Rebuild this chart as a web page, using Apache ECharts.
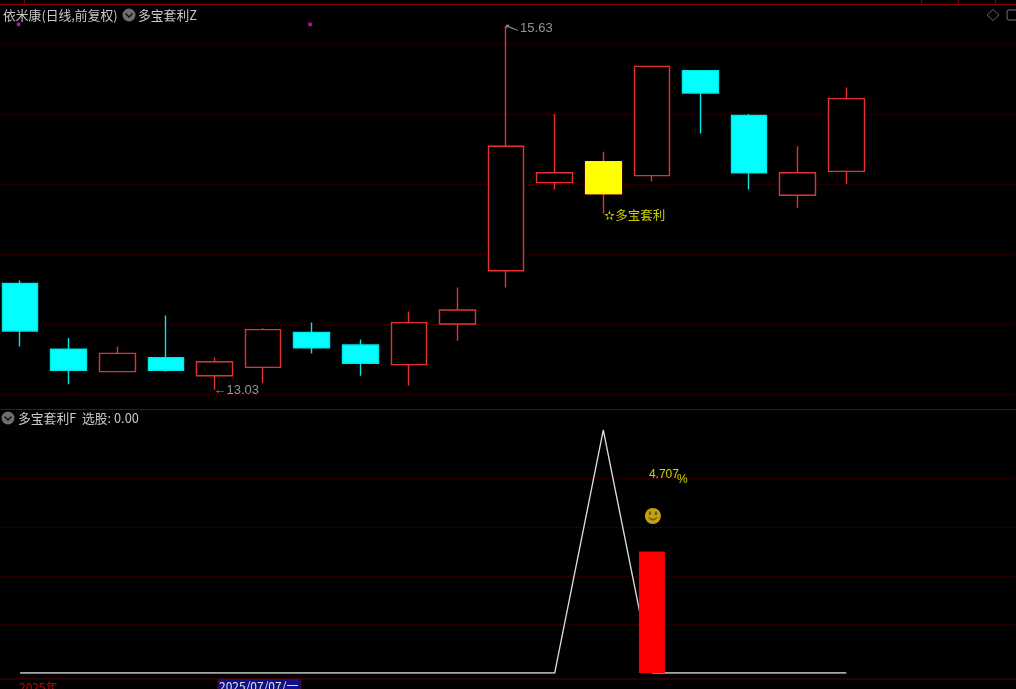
<!DOCTYPE html>
<html>
<head>
<meta charset="utf-8">
<style>
html, body { margin: 0; padding: 0; background: #000; }
#main { width: 1016px; height: 689px; overflow: hidden; }
</style>
<script src="https://cdn.jsdelivr.net/npm/echarts@6/dist/echarts.min.js"></script>
</head>
<body>
<div id="main"></div>
<script>
var cnFont = '"Noto Sans CJK SC", sans-serif';

var days = ['2025/07/01', '2025/07/02', '2025/07/03', '2025/07/04', '2025/07/07', '2025/07/08', '2025/07/09',
    '2025/07/10', '2025/07/11', '2025/07/14', '2025/07/15', '2025/07/16', '2025/07/17', '2025/07/18',
    '2025/07/21', '2025/07/22', '2025/07/23', '2025/07/24', '2025/07/25', '2025/07/28', '2025/07/29'];

// open, close, low, high
var opens  = [13.79, 13.32, 13.16, 13.26, 13.13, 13.19, 13.44, 13.35, 13.21, 13.50, 13.88, 14.51, 14.43, 14.56, 15.31, 14.99, 14.42, 14.59];
var closes = [13.45, 13.17, 13.29, 13.17, 13.23, 13.46, 13.33, 13.22, 13.51, 13.60, 14.77, 14.58, 14.66, 15.34, 15.15, 14.58, 14.58, 15.11];
var lows   = [13.34, 13.07, 13.16, 13.16, 13.03, 13.08, 13.29, 13.13, 13.06, 13.38, 13.76, 14.46, 14.29, 14.52, 14.86, 14.46, 14.33, 14.50];
var highs  = [13.81, 13.40, 13.34, 13.56, 13.26, 13.47, 13.51, 13.39, 13.59, 13.76, 15.63, 15.00, 14.73, 15.34, 15.31, 15.00, 14.77, 15.19];

var signalIndex = 12;
var magentaDots = [[0, 15.64], [6, 15.64]];

var pickLine = [0, 0, 0, 0, 0, 0, 0, 0, 0, 0, 0, 0, 1, 0, 0, 0, 0, 0];
var profitBar = [null, null, null, null, null, null, null, null, null, null, null, null, null, 0.5];
var profitText = '4.707';

var candles = opens.map(function(o, i) {
    return [o, closes[i], lows[i], highs[i]];
});

var chart = echarts.init(document.getElementById('main'), null, { renderer: 'canvas' });

function chrome(x, y, text, color) {
    return { type: 'text', x: x, y: y, silent: true, style: {
        text: text, fill: color || '#c8c8c8', font: '12.8px ' + cnFont, verticalAlign: 'middle'
    } };
}

function chevron(x, y) {
    return [
        { type: 'circle', shape: { cx: x, cy: y, r: 6.5 }, style: { fill: '#6e6e6e' } },
        { type: 'polyline', shape: { points: [[x - 3.5, y - 1.5], [x, y + 2], [x + 3.5, y - 1.5]] }, style: { stroke: '#111', lineWidth: 1.5, fill: null } }
    ];
}

function hLine(y, color) {
    return { type: 'line', shape: { x1: 0, y1: y, x2: 1016, y2: y }, style: { stroke: color, lineWidth: 1 } };
}

function vTick(x) {
    return { type: 'line', shape: { x1: x, y1: 0, x2: x, y2: 4 }, style: { stroke: '#800000', lineWidth: 1 } };
}

var splitStyle = { show: true, lineStyle: { color: '#700000', type: [1, 3], width: 1 } };
var markFont = { color: '#b8b8b8', fontSize: 13, fontFamily: 'Liberation Sans' };

var option = {
    backgroundColor: '#000',
    animation: false,
    grid: [
        { left: -4.2, top: 44, width: 1020.6, height: 350, outerBoundsMode: 'none' },
        { left: -4.2, top: 430, width: 1020.6, height: 243, outerBoundsMode: 'none' }
    ],
    xAxis: [
        { type: 'category', gridIndex: 0, data: days, show: false },
        { type: 'category', gridIndex: 1, data: days, show: false }
    ],
    yAxis: [
        { type: 'value', gridIndex: 0, min: 13, max: 15.5, interval: 0.5,
          axisLine: { show: false }, axisTick: { show: false }, axisLabel: { show: false }, splitLine: splitStyle },
        { type: 'value', gridIndex: 1, min: 0, max: 1, interval: 0.2,
          axisLine: { show: false }, axisTick: { show: false }, axisLabel: { show: false },
          splitLine: { show: true, showMinLine: false, showMaxLine: false, lineStyle: splitStyle.lineStyle } }
    ],
    series: [
        {
            name: 'K线', type: 'candlestick', xAxisIndex: 0, yAxisIndex: 0, data: candles,
            barWidth: 36, clip: false,
            itemStyle: { color: '#000', color0: '#00ffff', borderColor: '#e83232', borderColor0: '#00e8e8', borderWidth: 1.4 }
        },
        {
            name: '信号', type: 'candlestick', xAxisIndex: 0, yAxisIndex: 0, barWidth: 36, clip: false,
            data: candles.map(function(c, i) {
                return i === signalIndex ? [c[0], c[1], c[0], c[1]] : [null, null, null, null];
            }),
            itemStyle: { color: '#ffff00', color0: '#ffff00', borderColor: '#ffff00', borderColor0: '#ffff00', borderWidth: 1 }
        },
        {
            name: '标记', type: 'scatter', xAxisIndex: 0, yAxisIndex: 0, data: magentaDots, clip: false,
            symbol: 'rect', symbolSize: 3.5, symbolOffset: [-1.6, 0], itemStyle: { color: '#ff00ff' }
        },
        {
            name: '高低点', type: 'scatter', xAxisIndex: 0, yAxisIndex: 0, clip: false, z: 5,
            data: [
                { value: [10, highs[10]], symbol: 'path://M0 0 L4 0 L2.5 1.2 L14 5.5 L13.5 6.5 L1.5 2.4 L1 5 Z', symbolSize: [12, 6], symbolOffset: [6, 2],
                  itemStyle: { color: '#c0c0c0' },
                  label: { show: true, position: 'right', distance: 2, offset: [0, 1], formatter: highs[10].toFixed(2), color: markFont.color, fontSize: 13, fontFamily: markFont.fontFamily } },
                { value: [4, lows[4]], symbolSize: 0,
                  label: { show: true, position: 'right', distance: 0, offset: [-1, 1], formatter: '←' + lows[4].toFixed(2), color: markFont.color, fontSize: 13, fontFamily: markFont.fontFamily } },
                { value: [signalIndex, lows[signalIndex]], symbolSize: 0,
                  label: { show: true, position: 'right', distance: 0, offset: [1, 2], formatter: '✫多宝套利', color: '#ffff00', fontSize: 12.5, fontFamily: cnFont } }
            ]
        },
        {
            name: '选股', type: 'line', xAxisIndex: 1, yAxisIndex: 1, data: pickLine,
            showSymbol: false, lineStyle: { color: '#dcdcdc', width: 1.3 }, z: 3
        },
        {
            name: '收益', type: 'bar', xAxisIndex: 1, yAxisIndex: 1, data: profitBar,
            barWidth: 26, itemStyle: { color: '#ff0000' }, z: 4
        },
        {
            name: '收益文字', type: 'scatter', xAxisIndex: 1, yAxisIndex: 1, symbolSize: 0, z: 5,
            data: [
                { value: [13, 0.815], label: { formatter: profitText, offset: [-3, 0], align: 'left' } },
                { value: [13, 0.797], label: { formatter: '%', offset: [25, 0], align: 'left' } }
            ],
            label: { show: true, position: 'inside', color: '#ffff00', fontSize: 12, fontFamily: 'Liberation Sans' }
        },
        {
            name: '笑脸', type: 'scatter', xAxisIndex: 1, yAxisIndex: 1, data: [[13, 0.646]], z: 5,
            symbol: 'circle', symbolSize: 16, symbolOffset: [1, 0], itemStyle: { color: '#f2cb14' }
        },
        {
            name: '笑脸五官', type: 'scatter', xAxisIndex: 1, yAxisIndex: 1, data: [[13, 0.646]], z: 6,
            symbol: 'path://M2 1 h2 v3 h-2 Z M8 1 h2 v3 h-2 Z M1 6 h1.4 q3.6 3 7.2 0 h1.4 q-5 6 -10 0 Z',
            symbolSize: [10, 9], symbolOffset: [1, 0], itemStyle: { color: '#5a4300' }
        }
    ],
    graphic: [
        hLine(4.5, '#800000'), vTick(24.5), vTick(921.5), vTick(958.5), vTick(995.5),
        hLine(409.5, '#800000'), hLine(679, '#500000'),
        chrome(3, 15, '依米康(日线,前复权)'),
        chrome(138, 15, '多宝套利Z'),
        chrome(18, 418, '多宝套利F  选股: 0.00')
    ].concat(chevron(129, 15), chevron(8, 418), [
        { type: 'polygon', shape: { points: [[993, 9.5], [999, 15], [993, 20.5], [987, 15]] }, style: { fill: null, stroke: '#666', lineWidth: 1 } },
        { type: 'rect', shape: { x: 1007, y: 10, width: 12, height: 10, r: 2 }, style: { fill: null, stroke: '#777', lineWidth: 1 } },
        { type: 'text', x: 19, y: 681, style: { text: '2025年', fill: '#c00000', font: '12px ' + cnFont, verticalAlign: 'top' } },
        { type: 'rect', shape: { x: 218, y: 679, width: 83, height: 12 }, style: { fill: '#101088', stroke: '#600000', lineWidth: 1 } },
        { type: 'text', x: 219, y: 680, style: { text: days[4] + '/一', fill: '#e0e0e0', font: '12px ' + cnFont, verticalAlign: 'top' } }
    ])
};

chart.setOption(option);
</script>
</body>
</html>
